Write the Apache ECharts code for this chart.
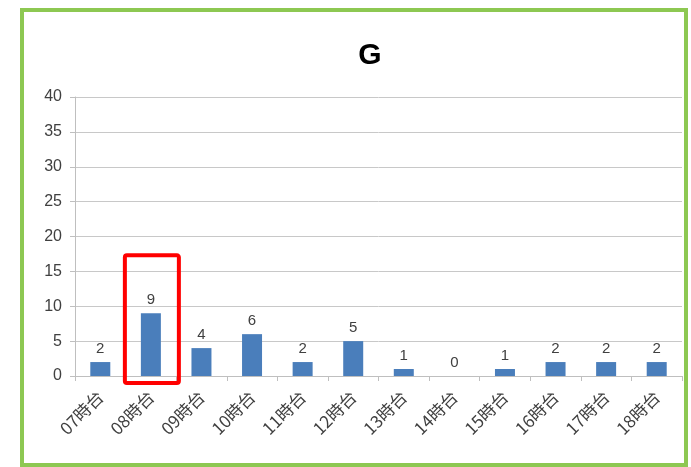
<!DOCTYPE html>
<html><head><meta charset="utf-8">
<script src="https://cdn.jsdelivr.net/npm/echarts@6/dist/echarts.min.js"></script>
<style>html,body{margin:0;padding:0;background:#fff;}#c{width:691px;height:467px;}</style>
</head><body><div id="c"></div>
<script>
const categories = ['07時台','08時台','09時台','10時台','11時台','12時台','13時台','14時台','15時台','16時台','17時台','18時台'];
const values = [2,9,4,6,2,5,1,0,1,2,2,2];
const yTicks = {min:0, max:40, interval:5};
const highlight = '08時台';

const chart = echarts.init(document.getElementById('c'));
chart.setOption({
  animation:false,
  title:{text:'G', left:365, top:36, textAlign:'center', textStyle:{fontFamily:'Liberation Sans', fontSize:30, fontWeight:'bold', color:'#000'}},
  grid:{left:75, right:9, top:97, bottom:91},
  xAxis:{type:'category', data:categories,
    axisLine:{lineStyle:{color:'#bfbfbf'}},
    axisTick:{show:true, length:5, lineStyle:{color:'#bfbfbf'}},
    axisLabel:{rotate:45, fontSize:17, color:'#404040', fontFamily:'Noto Sans CJK JP', margin:18}},
  yAxis:{type:'value', min:yTicks.min, max:yTicks.max, interval:yTicks.interval,
    axisLine:{show:true, lineStyle:{color:'#bfbfbf'}},
    axisTick:{show:true, length:5, lineStyle:{color:'#bfbfbf'}},
    axisLabel:{fontSize:16, color:'#404040', fontFamily:'Liberation Sans', margin:13}},
  series:[{type:'bar', data:values, barWidth:20, itemStyle:{color:'#4a7ebb'},
    label:{show:true, position:'top', distance:6, fontSize:15, color:'#404040', fontFamily:'Liberation Sans'}}]
});
chart.setOption({yAxis:{splitLine:{lineStyle:{color:'#c8c8c8'}}}});
const ctr = chart.convertToPixel({xAxisIndex:0}, highlight);
const yTop = chart.convertToPixel({yAxisIndex:0}, 17.3);
const yBot = chart.convertToPixel({yAxisIndex:0}, -1);
chart.setOption({graphic:[
  {type:'rect', shape:{x:22, y:10, width:664, height:455}, style:{fill:'none', stroke:'#8dc852', lineWidth:4}, z:100},
  {type:'rect', shape:{x:ctr-26, y:yTop, width:54, height:yBot-yTop, r:2}, style:{fill:'none', stroke:'#ff0000', lineWidth:4}, z:100}
]});
</script></body></html>
